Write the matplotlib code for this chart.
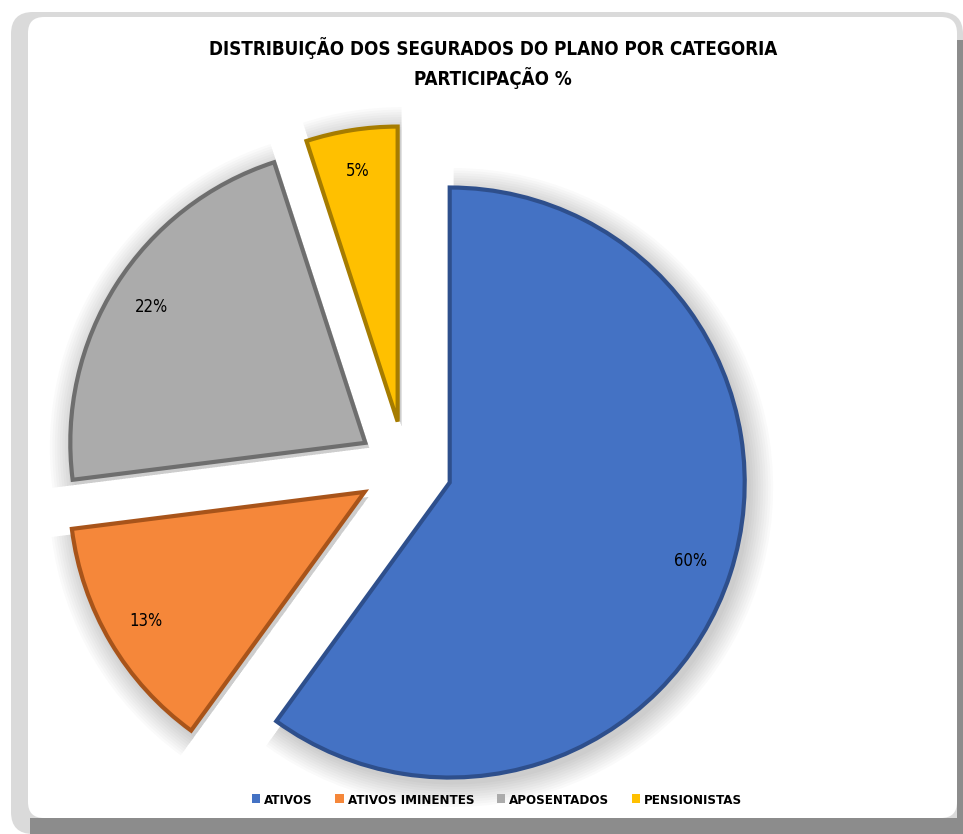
import matplotlib
matplotlib.use('Agg')
import matplotlib.pyplot as plt
from matplotlib.patches import FancyBboxPatch, Rectangle

# data
categorias = ['ATIVOS', 'ATIVOS IMINENTES', 'APOSENTADOS', 'PENSIONISTAS']
participacao = [60, 13, 22, 5]
cores = ['#4472C4', '#F5873A', '#ABABAB', '#FFC000']
bordas = ['#2E4F8C', '#A8541A', '#6E6E6E', '#A67C00']
titulo = 'DISTRIBUIÇÃO DOS SEGURADOS DO PLANO POR CATEGORIA\nPARTICIPAÇÃO %'

W, H = 963, 834
fonte = ['Liberation Sans Narrow', 'DejaVu Sans']

fig = plt.figure(figsize=(W / 100, H / 100), dpi=100)
ax = fig.add_axes([0, 0, 1, 1])
ax.set_xlim(0, W)
ax.set_ylim(0, H)
ax.axis('off')

# moldura com sombra
ax.add_patch(FancyBboxPatch((11, 0), W - 11, H - 12, boxstyle='round,pad=0,rounding_size=22',
                            fc='#dadada', ec='none', zorder=0))
ax.add_patch(Rectangle((30, 0), W - 30, 16, fc='#8c8c8c', ec='none', zorder=0))
ax.add_patch(Rectangle((957, 0), 6, H - 40, fc='#8c8c8c', ec='none', zorder=0))
ax.add_patch(FancyBboxPatch((28, 16), 929, H - 33, boxstyle='round,pad=0,rounding_size=16',
                            fc='white', ec='none', zorder=0.5))

cx, cy, R = 405, H - 468, 295
afast = 47  # deslocamento das fatias (pixels)

# sombra suave
for k in range(10):
    r = R + 2 + k * 2.5
    ax.pie(participacao, radius=r, center=(cx + 4, cy - 5), startangle=90, counterclock=False,
           explode=[afast] * 4, colors=['black'] * 4,
           wedgeprops=dict(alpha=0.018, linewidth=0))

wedges, _, autotexts = ax.pie(
    participacao, radius=R, center=(cx, cy), startangle=90, counterclock=False,
    explode=[afast] * 4, colors=cores, autopct='%1.0f%%', pctdistance=0.86,
    wedgeprops=dict(linewidth=3, joinstyle='miter'),
    textprops=dict(fontsize=12, color='black', family=fonte, stretch='condensed'))
for w, b in zip(wedges, bordas):
    w.set_edgecolor(b)
    w.set_zorder(3)
for t in autotexts:
    t.set_zorder(5)

ax.set_xlim(0, W)
ax.set_ylim(0, H)
ax.set_aspect('equal')

ax.text(493, H - 63, titulo, ha='center', va='center', fontsize=13.5, fontweight='bold',
        family=fonte, stretch='condensed', linespacing=1.4, zorder=6)

marcas = [Rectangle((0, 0), 1, 1, fc=c, ec='none') for c in cores]
leg = ax.legend(marcas, categorias, loc='center', bbox_to_anchor=(497 / W, (H - 800) / H),
                ncol=4, frameon=False, handlelength=0.65, handleheight=0.65, handletextpad=0.3,
                columnspacing=1.7,
                prop=dict(family=fonte, size=9.5, weight='bold', stretch='condensed'))

fig.savefig('out.png', dpi=100)
